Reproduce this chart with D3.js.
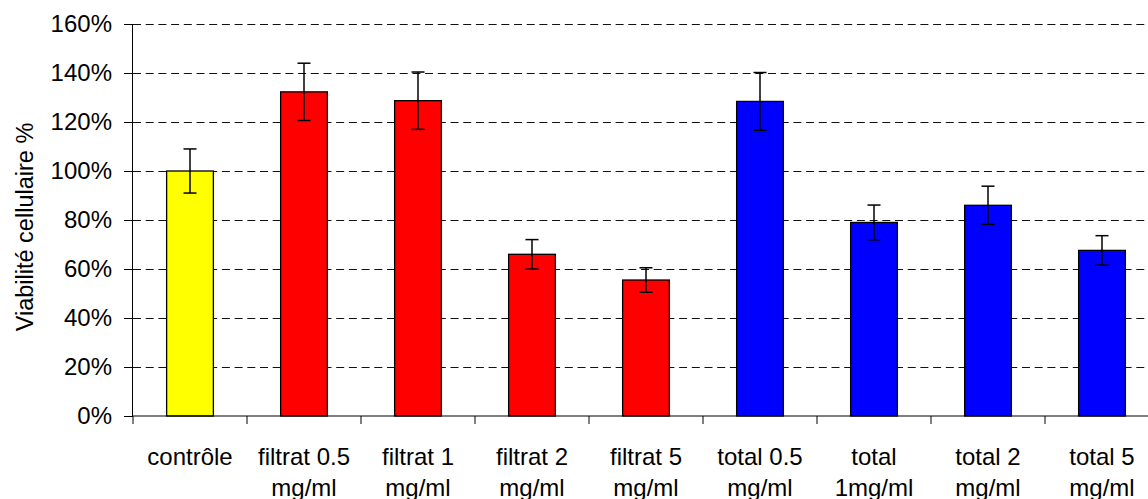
<!DOCTYPE html>
<html><head><meta charset="utf-8">
<script src="https://cdn.jsdelivr.net/npm/d3@7"></script>
<style>body{margin:0;background:#fff}svg{display:block}text{font-family:"Liberation Sans",Arial,sans-serif;fill:#000}</style>
</head><body><svg id="c" width="1148" height="499"></svg>
<script>
const categories = ["contrôle","filtrat 0.5 mg/ml","filtrat 1 mg/ml","filtrat 2 mg/ml","filtrat 5 mg/ml","total 0.5 mg/ml","total 1mg/ml","total 2 mg/ml","total 5 mg/ml"];
const labelLines = [["contrôle"],["filtrat 0.5","mg/ml"],["filtrat 1","mg/ml"],["filtrat 2","mg/ml"],["filtrat 5","mg/ml"],["total 0.5","mg/ml"],["total","1mg/ml"],["total 2","mg/ml"],["total 5","mg/ml"]];
const values = [100, 132.3, 128.7, 66, 55.5, 128.4, 79, 86, 67.6];
const errors = [9, 11.7, 11.7, 6, 5, 11.8, 7.1, 7.8, 6];
const groups = ["c","f","f","f","f","t","t","t","t"];
const yTicks = [0,20,40,60,80,100,120,140,160];
const colors = {c:"#FFFF00", f:"#FF0000", t:"#0000FF"};

const svg = d3.select("#c");
const x0 = 133, xEnd = 1159, yTop = 24, yBot = 416;
const x = d3.scaleBand().domain(categories).range([x0, xEnd]).paddingInner(0.59).paddingOuter(0.295);
const y = d3.scaleLinear().domain([0,160]).range([yBot, yTop]);

// gridlines
svg.append("g").selectAll("line").data(yTicks.filter(d=>d>0)).join("line")
  .attr("x1", x0).attr("x2", 1148).attr("y1", d=>y(d)+0.5).attr("y2", d=>y(d)+0.5)
  .attr("stroke", "#111").attr("stroke-width", 1).attr("stroke-dasharray", "8,4.7");

// bars
svg.append("g").selectAll("rect").data(categories).join("rect")
  .attr("x", d=>x(d)).attr("width", x.bandwidth())
  .attr("y", (d,i)=>y(values[i])).attr("height", (d,i)=>yBot - y(values[i]))
  .attr("fill", (d,i)=>colors[groups[i]]).attr("stroke", "#000").attr("stroke-width", 1.3);

// error bars
const eb = svg.append("g").attr("stroke", "#000").attr("stroke-width", 1.5);
categories.forEach((c,i)=>{
  const cx = x(c) + x.bandwidth()/2;
  const hi = y(values[i]+errors[i]), lo = y(values[i]-errors[i]);
  eb.append("line").attr("x1",cx).attr("x2",cx).attr("y1",hi).attr("y2",lo);
  eb.append("line").attr("x1",cx-6.5).attr("x2",cx+6.5).attr("y1",hi).attr("y2",hi);
  eb.append("line").attr("x1",cx-6.5).attr("x2",cx+6.5).attr("y1",lo).attr("y2",lo);
});

// y axis
const ya = svg.append("g").attr("transform", `translate(${x0},0)`)
  .call(d3.axisLeft(y).tickValues(yTicks).tickFormat(d=>d+"%").tickSize(9).tickPadding(12));
ya.select(".domain").attr("stroke","#000").attr("d", `M-0.5,${yTop}V${yBot}`);
ya.selectAll(".tick line").attr("stroke","#000");
ya.selectAll(".tick text").attr("font-size", 24).attr("font-family","Liberation Sans, Arial, sans-serif").attr("fill","#000");

// x axis
const xb = d3.scaleLinear().domain([0, categories.length]).range([x0, xEnd]);
const xa = svg.append("g");
xa.append("line").attr("x1", x0).attr("x2", 1148).attr("y1", yBot).attr("y2", yBot).attr("stroke","#000").attr("stroke-width",1.2);
xa.selectAll("line.t").data(d3.range(categories.length+1)).join("line").attr("class","t")
  .attr("x1", d=>xb(d)).attr("x2", d=>xb(d)).attr("y1", yBot).attr("y2", yBot+8).attr("stroke","#000");
categories.forEach((c,i)=>{
  const t = svg.append("text").attr("text-anchor","middle").attr("font-size",24)
    .attr("x", x(c)+x.bandwidth()/2).attr("y", 465);
  labelLines[i].forEach((ln,j)=>t.append("tspan").attr("x", x(c)+x.bandwidth()/2).attr("dy", j===0?0:31).text(ln));
});

// y label
svg.append("text").attr("transform", `translate(33,${(yTop+yBot)/2+7}) rotate(-90)`)
  .attr("text-anchor","middle").attr("font-size",23.5).text("Viabilité cellulaire %");
</script></body></html>
